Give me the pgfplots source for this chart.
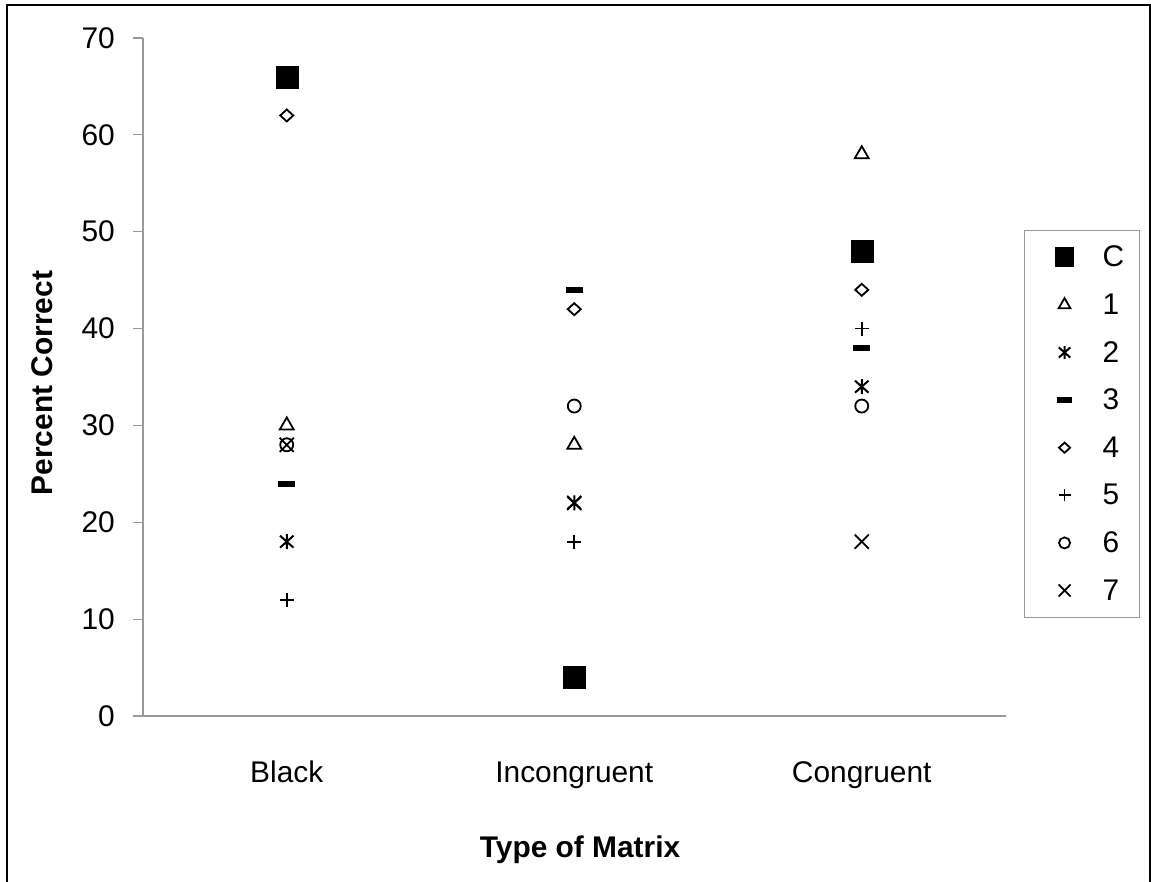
\documentclass[border=0pt]{standalone}
\usepackage{fontspec}
\setmainfont{Liberation Sans}
\usepackage{pgfplots}
\pgfplotsset{compat=1.18}

% x-shaped asterisk (x with a vertical bar), as in the original
\pgfdeclareplotmark{xast}{%
  \pgfpathmoveto{\pgfqpoint{0pt}{-\pgfplotmarksize}}%
  \pgfpathlineto{\pgfqpoint{0pt}{\pgfplotmarksize}}%
  \pgfpathmoveto{\pgfqpoint{-.9\pgfplotmarksize}{-.8\pgfplotmarksize}}%
  \pgfpathlineto{\pgfqpoint{.9\pgfplotmarksize}{.8\pgfplotmarksize}}%
  \pgfpathmoveto{\pgfqpoint{-.9\pgfplotmarksize}{.8\pgfplotmarksize}}%
  \pgfpathlineto{\pgfqpoint{.9\pgfplotmarksize}{-.8\pgfplotmarksize}}%
  \pgfusepathqstroke}

\newcommand\chartfont{\fontsize{30}{36}\selectfont}

\begin{document}
\begin{tikzpicture}[x=1bp,y=1bp]
\useasboundingbox (0,0) rectangle (1151,882);
\draw[line width=2bp] (7,0) -- (7,877) -- (1150,877) -- (1150,0);
\begin{axis}[
    at={(143bp,166bp)}, anchor=south west,
    scale only axis,
    width=862.5bp, height=678bp,
    xmin=0, xmax=3, ymin=0, ymax=70,
    axis x line=bottom, axis y line=left,
    axis line style={-, draw=gray!80, line width=1.2bp},
    xtick={0.5,1.5,2.5},
    xticklabels={Black,Incongruent,Congruent},
    ytick={0,10,...,70},
    xtick style={draw=none},
    ytick style={draw=gray!80, line width=1.2bp},
    tick align=outside,
    major tick length=10bp,
    /pgf/number format/assume math mode=true,
    ticklabel style={font=\chartfont},
    xticklabel style={anchor=base, inner sep=0pt, yshift=-57bp},
    yticklabel style={anchor=east, inner sep=0pt, xshift=-18bp},
    xlabel={Type of Matrix},
    ylabel={Percent Correct},
    label style={font=\bfseries\chartfont},
    xlabel style={at={(axis description cs:0.5067,-0.2094)}, anchor=base, inner sep=0pt},
    ylabel style={at={(axis description cs:-0.1165,0.491)}, anchor=center, inner sep=0pt},
    clip=false,
    legend style={
        at={(rel axis cs:1.0215,0.7168)}, anchor=north west,
        draw=gray!80, line width=1bp,
        inner xsep=0pt, inner ysep=3bp,
        font=\chartfont,
        nodes={inner sep=0pt},
        /tikz/every odd column/.append style={column sep=18bp},
    },
    legend cell align=left,
    legend image code/.code={
        \path[draw=none, fill=none] (0bp,-23.8bp) rectangle (60bp,23.8bp);
        \draw[#1, every mark/.append style={scale=0.85}] plot coordinates {(40bp,0bp)};
    },
]
\addplot[only marks, mark=square*, mark size=11bp, fill=black, draw=black]
    coordinates {(0.5,66) (1.5,4) (2.5,48)};
\addlegendentry{\makebox[37bp][l]{C}}
\addplot[only marks, mark=triangle, mark size=8bp, line width=1.8bp, black]
    coordinates {(0.5,30) (1.5,28) (2.5,58)};
\addlegendentry{1}
\addplot[only marks, mark=xast, mark size=7.5bp, line width=2bp, black]
    coordinates {(0.5,18) (1.5,22) (2.5,34)};
\addlegendentry{2}
\addplot[only marks, mark=-, mark size=8.5bp, line width=6bp, black]
    coordinates {(0.5,24) (1.5,44) (2.5,38)};
\addlegendentry{3}
\addplot[only marks, mark=diamond, mark size=6bp, line width=1.8bp, black,
    mark options={xscale=1.45}]
    coordinates {(0.5,62) (1.5,42) (2.5,44)};
\addlegendentry{4}
\addplot[only marks, mark=+, mark size=7bp, line width=1.8bp, black]
    coordinates {(0.5,12) (1.5,18) (2.5,40)};
\addlegendentry{5}
\addplot[only marks, mark=o, mark size=6.5bp, line width=1.8bp, black]
    coordinates {(0.5,28) (1.5,32) (2.5,32)};
\addlegendentry{6}
\addplot[only marks, mark=x, mark size=10bp, line width=1.8bp, black]
    coordinates {(0.5,28) (1.5,22) (2.5,18)};
\addlegendentry{7}
\end{axis}
\end{tikzpicture}
\end{document}
